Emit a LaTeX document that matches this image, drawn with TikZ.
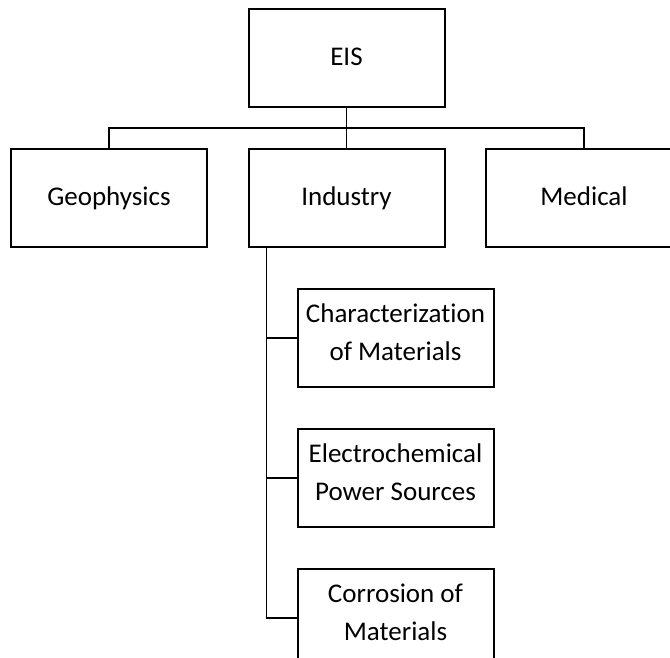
\documentclass[tikz,border=0pt]{standalone}
\usepackage{fontspec}
\setmainfont{Carlito}[Ligatures=NoCommon]
\usetikzlibrary{positioning}
\tikzset{node distance=40pt,every node/.style={font=\fontsize{27pt}{38pt}\selectfont},
  box/.style={draw,line width=2pt,minimum width=196pt,minimum height=98pt,inner sep=0pt,align=center,
    execute at begin node=\strut}}

\begin{document}
\begin{tikzpicture}[x=1pt,y=1pt,line width=1.3pt]
    \useasboundingbox (0,0) rectangle (670,-657);
    \clip (0,0) rectangle (670,-657);
    \node[box] (1) at (346.5,-58) {EIS};
    \node[box] (3) [below=of 1] {Industry};
    \node[box] (2) [left=39.5pt of 3] {Geophysics};
    \node[box] (4) [right=39.5pt of 3] {Medical};
    \node[box] (5) [below right=40pt and 49pt of 3.south west,anchor=north west] {Characterization\\\strut of Materials};
    \node[box] (6) [below=of 5] {Electrochemical\\\strut Power Sources};
    \node[box] (7) [below=of 6] {Corrosion of\\\strut Materials};
    \coordinate (a) at ([yshift=-20pt]1.south);
    \coordinate (b) at ([xshift=19pt]3.south west);
    \draw (1) -- (a) -- (3);
    \draw (2.north) |- (a) -| (4.north);
    \draw (b) |- (7.west);
    \draw (b |- 5.west) -- (5.west);
    \draw (b |- 6.west) -- (6.west);
\end{tikzpicture}
\end{document}
